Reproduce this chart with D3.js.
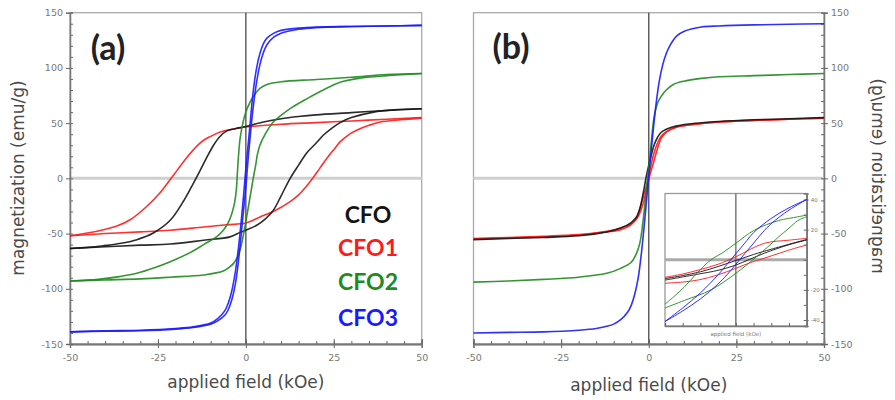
<!DOCTYPE html>
<html><head><meta charset="utf-8">
<script src="https://cdn.jsdelivr.net/npm/d3@7"></script>
<style>body{margin:0;background:#fff}svg{display:block}</style>
</head><body><svg id="c" width="895" height="400"></svg>
<script>
// ---------------- DATA ----------------
const seriesNames = ["CFO", "CFO1", "CFO2", "CFO3"];
const xTicksMajor = [-50, -25, 0, 25, 50];
const yTicksMajor = [150, 100, 50, 0, -50, -100, -150];
const insetYTickLabels = [40, 20, -20, -40];

// Panel (a): hysteresis loops, [field kOe, magnetization emu/g]
const a_CFO_desc = [[50,63],[40,61.5],[30,59.5],[20,57.5],[15,56],[10,54],[5,51],[0,47],[-3,45],[-5.4,43],[-7.5,37.5],[-9.2,30],[-11.5,16.5],[-13.5,4],[-15.5,-8],[-17.8,-21],[-21.5,-38],[-26.3,-49.5],[-31,-55.5],[-35,-58.5],[-40.5,-61],[-45,-62.5],[-50,-63.5]];
const a_CFO_asc = [[-50,-63.5],[-40,-62],[-30,-60.5],[-21.5,-59.5],[-12,-56],[-4.5,-53],[-1.7,-49],[0,-47],[3.1,-42.5],[5.5,-37],[7.8,-29],[10,-16],[12.6,0],[15,12],[17.3,23],[20,32],[22,39],[24.5,45.5],[26.8,50.5],[30,55],[36.3,60],[42,62],[50,63]];
const a_CFO1_desc = [[50,55],[40,53.5],[30,52],[20,50.5],[10,49],[0,46.5],[-4,44.5],[-7.3,42],[-10,38],[-12,34.5],[-14,29],[-16.5,20],[-19.6,7],[-21.5,-1],[-24.4,-13],[-28.2,-25.5],[-32.9,-37.5],[-36.5,-43],[-40.5,-46.5],[-45,-49.5],[-50,-52]];
const a_CFO1_asc = [[-50,-52],[-40,-50],[-30,-48.5],[-21.5,-47],[-12,-44],[-5.4,-42],[0,-40.5],[4,-35],[7.8,-30],[12.6,-21],[15,-15],[17.3,-7],[19,0],[21,9],[23,18],[25,26],[26.8,33],[29,39],[31.5,43.5],[35,48],[38.2,51],[44,53],[50,54.5]];
const a_CFO2_desc = [[50,95],[40,94],[30,91.5],[20,89.5],[10,87.5],[6,85],[4,81.5],[2.5,76],[1.2,69],[0,60],[-0.7,52],[-1.6,37],[-2.1,20],[-2.4,5],[-2.7,-10],[-3.2,-22],[-4,-32],[-5,-40],[-6.4,-47],[-8,-52],[-12,-60],[-16,-67.5],[-21.5,-75.5],[-26,-81],[-31,-86],[-36,-89],[-42,-91.5],[-50,-93]];
const a_CFO2_asc = [[-50,-93],[-40,-92],[-30,-91],[-21.5,-89.5],[-12,-87.5],[-6.4,-84],[-4.5,-80],[-3.5,-77],[-2.5,-72],[-1.5,-63],[-0.5,-48],[0.5,-30],[1.3,-15],[2.1,0],[2.8,12],[3.3,22],[4,30],[5.5,40],[7.8,51],[10,57],[13,64],[17.3,72],[22,80],[26.8,87],[32,90.5],[40,93],[50,95]];
const a_CFO3_desc = [[50,138.5],[40,138],[30,137.5],[20,137],[15,136],[10,134],[8,131.5],[6,127],[5,122],[4,113],[3,99],[2,76],[1,42],[0,9],[-0.5,-10],[-1,-28],[-2,-60],[-3,-85],[-4,-102],[-5,-113],[-6,-120],[-8,-127],[-10,-131],[-15,-134.5],[-20,-136],[-30,-137.5],[-40,-138],[-50,-139]];
const a_CFO3_asc = [[-50,-139],[-40,-138.5],[-30,-138],[-20,-136.5],[-15,-135],[-10,-132],[-8,-129],[-6,-124],[-5,-119],[-4,-110],[-3,-96],[-2,-72],[-1,-40],[0,-8],[0.5,12],[1,30],[2,62],[3,86],[4,103],[5,114],[6,121],[8,128],[10,131.5],[15,135],[20,136.5],[30,137.5],[40,138],[50,138.5]];

// Panel (b)
const b_CFO = [[-50,-55.5],[-40,-54.5],[-30,-53.5],[-20,-52],[-12,-48.5],[-8,-45],[-5,-40],[-3.5,-35],[-2.5,-27],[-1.5,-12],[-0.5,5],[0.5,18],[1.5,30],[2.5,37],[3.5,41.5],[5,44.5],[8,47.5],[12,49.5],[20,51.5],[30,53],[40,54],[50,55]];
const b_CFO1_asc = [[-50,-55],[-40,-54],[-30,-53],[-20,-51.5],[-12,-48],[-8,-45],[-5,-41],[-3.5,-37],[-2.5,-31],[-1.5,-22],[-0.5,-8],[0.5,5],[1.5,16],[2.5,27],[3.5,36],[5,42],[8,46.5],[12,48.5],[20,51],[30,52.5],[40,53.5],[50,54.5]];
const b_CFO1_desc = [[50,54.5],[40,53.5],[30,52.5],[20,51],[12,48.5],[8,46.5],[5,42],[3.5,38],[2.5,32],[1.5,23],[0.5,10],[-0.5,-5],[-1.5,-16],[-2.5,-27],[-3.5,-36],[-5,-42],[-8,-46.5],[-12,-48.5],[-20,-51],[-30,-52.5],[-40,-53.5],[-50,-54.5]];
const b_CFO2 = [[-50,-94],[-40,-93],[-30,-91.5],[-20,-89.5],[-12,-86],[-8,-81.5],[-5,-76],[-3.5,-68],[-2.5,-58],[-1.5,-35],[-0.5,-5],[0.5,25],[1.5,55],[2.5,68],[3.5,74],[5,80],[7,85],[10,88],[15,90.5],[20,92],[30,93],[40,94],[50,95]];
const b_CFO3 = [[-50,-140],[-40,-139.5],[-30,-139],[-20,-137.5],[-15,-136],[-12,-134],[-10,-132],[-8,-128],[-6,-121],[-5,-115],[-4,-105],[-3,-90],[-2,-65],[-1,-33],[0,2],[1,35],[2,65],[3,88],[4,103],[5,113],[6,120],[8,129],[10,133],[15,137],[20,138],[30,139],[40,139.5],[50,140]];

// Inset of (b): low-field detail
const in_CFO3_asc = [[-4,-41],[-3,-34],[-2,-26],[-1,-16],[-0.5,-10],[0,-3],[0.5,4],[1,11],[1.5,18],[2,24],[3,33],[4,40]];
const in_CFO3_desc = [[4,40],[3,34.5],[2,27.5],[1,18],[0.5,11],[0,4],[-0.5,-3],[-1,-10],[-2,-22],[-3,-32],[-4,-41]];
const in_CFO2_desc = [[4,29.7],[3.5,28.5],[2.4,26],[1.07,19.8],[0,11],[-0.7,5],[-1.4,0],[-2.2,-9],[-2.9,-18],[-3.5,-24.5],[-4,-29.5]];
const in_CFO2_asc = [[-4,-32],[-2.9,-27],[-1.4,-20],[0,-9],[1.07,1],[1.8,8.5],[2.4,15],[3,21],[3.5,26],[4,28.6]];
const in_CFO1_desc = [[4,14.2],[3,13],[1.6,10.9],[0,2],[-1,-3],[-2.1,-6.8],[-3,-9.5],[-4,-11.7]];
const in_CFO1_asc = [[-4,-15.6],[-3,-14.8],[-2.1,-13.4],[-1,-10],[0,-5.7],[0.8,-2],[1.6,1],[2.5,4.5],[3.3,7.5],[4,9.8]];
const in_CFO_desc = [[4,13.5],[2,7],[1,3.5],[0,-0.5],[-1,-4.5],[-2,-8],[-3,-10.5],[-4,-12.5]];
const in_CFO_asc = [[-4,-13.5],[-2.1,-9.5],[-1,-7],[0,-3.5],[1.6,4.3],[3,10],[4,13.1]];

// ---------------- DRAW ----------------
const colors = {CFO:"#141414", CFO1:"#ff1a1a", CFO2:"#1f8a1f", CFO3:"#1a1aff"};
const svg = d3.select("#c");
const FONT = "'DejaVu Sans', Verdana, sans-serif";
const BOLD = "Lato, 'Open Sans', sans-serif";
const fmt = d => String(d);

const yA = d3.scaleLinear().domain([-150,150]).range([344,12.7]);
const xA = d3.scaleLinear().domain([-50,50]).range([70,421.7]);
const xB = d3.scaleLinear().domain([-50,50]).range([473.5,824]);
const yB = yA;
const xI = d3.scaleLinear().domain([-4,4]).range([665,806.7]);
const yI = d3.scaleLinear().domain([-44,44]).range([326,193.5]);

const minorY = d3.range(-150,151,10);
const minorX = d3.range(-50,51,5);

function styleAxis(g){
  g.select(".domain").attr("stroke","#777").attr("stroke-width",1.3);
  g.selectAll(".tick line").attr("stroke","#666").attr("stroke-width",1);
  g.selectAll(".tick text").attr("fill","#777").attr("font-family",FONT).attr("font-size",9.5);
}

function panel(x, y, side){
  const g = svg.append("g");
  const [x0,x1] = x.range(), [y0,y1] = y.range();
  g.append("rect").attr("x",x0).attr("y",y1).attr("width",x1-x0).attr("height",y0-y1)
    .attr("fill","none").attr("stroke","#aaa").attr("stroke-width",1.3);
  g.append("line").attr("x1",x0).attr("x2",x1).attr("y1",y(0)).attr("y2",y(0))
    .attr("stroke","#cfcfcf").attr("stroke-width",3);
  g.append("line").attr("x1",x(0)).attr("x2",x(0)).attr("y1",y1).attr("y2",y0)
    .attr("stroke","#555").attr("stroke-width",1.4);
  const bx = g.append("g").attr("transform",`translate(0,${y0})`);
  bx.append("g").call(d3.axisBottom(x).tickValues(minorX).tickSize(-3).tickFormat("")).call(styleAxis);
  bx.append("g").call(d3.axisBottom(x).tickValues(xTicksMajor).tickSize(4).tickPadding(6).tickFormat(fmt)).call(styleAxis);
  bx.append("g").call(d3.axisBottom(x).tickValues(xTicksMajor).tickSize(-5).tickFormat("")).call(styleAxis);
  if (side === "left"){
    const ax = g.append("g").attr("transform",`translate(${x0},0)`);
    ax.append("g").call(d3.axisLeft(y).tickValues(minorY).tickSize(-3).tickFormat("")).call(styleAxis);
    ax.append("g").call(d3.axisLeft(y).tickValues(yTicksMajor).tickSize(4).tickPadding(3).tickFormat(fmt)).call(styleAxis);
  } else {
    const ax = g.append("g").attr("transform",`translate(${x1},0)`);
    ax.append("g").call(d3.axisRight(y).tickValues(minorY).tickSize(-3).tickFormat("")).call(styleAxis);
    ax.append("g").call(d3.axisRight(y).tickValues(yTicksMajor).tickSize(4).tickPadding(3).tickFormat(fmt)).call(styleAxis);
  }
  return g;
}

function curve(g, x, y, data, color, w){
  const line = d3.line().x(d=>x(d[0])).y(d=>y(d[1])).curve(d3.curveCatmullRom.alpha(0.5));
  g.append("path").datum(data).attr("d",line).attr("fill","none")
    .attr("stroke",color).attr("stroke-width",w||1.6).attr("stroke-opacity",0.9)
    .attr("stroke-linejoin","round");
}

// Panel a
const gA = panel(xA, yA, "left");
[[a_CFO1_desc,"CFO1"],[a_CFO1_asc,"CFO1"],[a_CFO_desc,"CFO"],[a_CFO_asc,"CFO"],
 [a_CFO2_desc,"CFO2"],[a_CFO2_asc,"CFO2"],[a_CFO3_desc,"CFO3"],[a_CFO3_asc,"CFO3"]]
 .forEach(([d,n])=>curve(gA,xA,yA,d,colors[n]));

// Panel b
const gB = panel(xB, yB, "right");
[[b_CFO1_asc,"CFO1"],[b_CFO1_desc,"CFO1"],[b_CFO,"CFO"],[b_CFO2,"CFO2"],[b_CFO3,"CFO3"]]
 .forEach(([d,n])=>curve(gB,xB,yB,d,colors[n]));

// Inset
const gI = svg.append("g");
{
  const [x0,x1]=xI.range(), [y0,y1]=yI.range();
  gI.append("rect").attr("x",x0).attr("y",y1).attr("width",x1-x0).attr("height",y0-y1)
    .attr("fill","#fff").attr("stroke","#999").attr("stroke-width",1.3);
  gI.append("line").attr("x1",x0).attr("x2",x1).attr("y1",yI(0)).attr("y2",yI(0))
    .attr("stroke","#aaa").attr("stroke-width",3);
  gI.append("line").attr("x1",xI(0)).attr("x2",xI(0)).attr("y1",y1).attr("y2",y0)
    .attr("stroke","#666").attr("stroke-width",1.3);
  const bx = gI.append("g").attr("transform",`translate(0,${y0})`);
  bx.append("g").call(d3.axisBottom(xI).tickValues(d3.range(-4,5,1)).tickSize(-3).tickFormat("")).call(styleAxis);
  const ry = gI.append("g").attr("transform",`translate(${x1},0)`);
  ry.append("g").call(d3.axisRight(yI).tickValues(d3.range(-40,41,10)).tickSize(-3).tickFormat("")).call(styleAxis);
  ry.append("g").call(d3.axisRight(yI).tickValues(insetYTickLabels).tickSize(2).tickPadding(2).tickFormat(fmt)).call(styleAxis)
    .selectAll("text").attr("font-size",5.5);
  gI.append("text").attr("x",xI(0)).attr("y",y0+10).attr("text-anchor","middle")
    .attr("font-family",FONT).attr("font-size",5.5).attr("fill","#777").text("applied field (kOe)");
  [[in_CFO1_desc,"CFO1"],[in_CFO1_asc,"CFO1"],[in_CFO_desc,"CFO"],[in_CFO_asc,"CFO"],
   [in_CFO2_desc,"CFO2"],[in_CFO2_asc,"CFO2"],[in_CFO3_desc,"CFO3"],[in_CFO3_asc,"CFO3"]]
   .forEach(([d,n])=>curve(gI,xI,yI,d,colors[n],1));
}

// Axis titles
svg.append("text").attr("x",xA(0)).attr("y",388).attr("text-anchor","middle")
  .attr("font-family",FONT).attr("font-size",17).attr("fill","#4a4a4a").text("applied field (kOe)");
svg.append("text").attr("x",xB(0)).attr("y",391).attr("text-anchor","middle")
  .attr("font-family",FONT).attr("font-size",17).attr("fill","#4a4a4a").text("applied field (kOe)");
svg.append("text").attr("transform","translate(24,178) rotate(-90)").attr("text-anchor","middle")
  .attr("font-family",FONT).attr("font-size",17).attr("fill","#4a4a4a").text("magnetization (emu/g)");
svg.append("text").attr("transform","translate(872,176) scale(-1,1) rotate(-90)").attr("text-anchor","middle")
  .attr("font-family",FONT).attr("font-size",17).attr("fill","#4a4a4a").text("magnetization (emu/g)");

// Panel letters
svg.append("text").attr("x",108).attr("y",60).attr("text-anchor","middle")
  .attr("font-family",BOLD).attr("font-weight","bold").attr("font-size",34).attr("fill","#222").text("(a)");
svg.append("text").attr("x",511).attr("y",59).attr("text-anchor","middle")
  .attr("font-family",BOLD).attr("font-weight","bold").attr("font-size",34).attr("fill","#222").text("(b)");

// Legend
const legY = [214.5, 247.5, 282, 317.5];
seriesNames.forEach((n,i)=>{
  svg.append("text").attr("x",368).attr("y",legY[i]).attr("dy","0.36em").attr("text-anchor","middle")
    .attr("font-family",BOLD).attr("font-weight","bold").attr("font-size",23).attr("fill",colors[n]).text(n);
});
</script></body></html>
